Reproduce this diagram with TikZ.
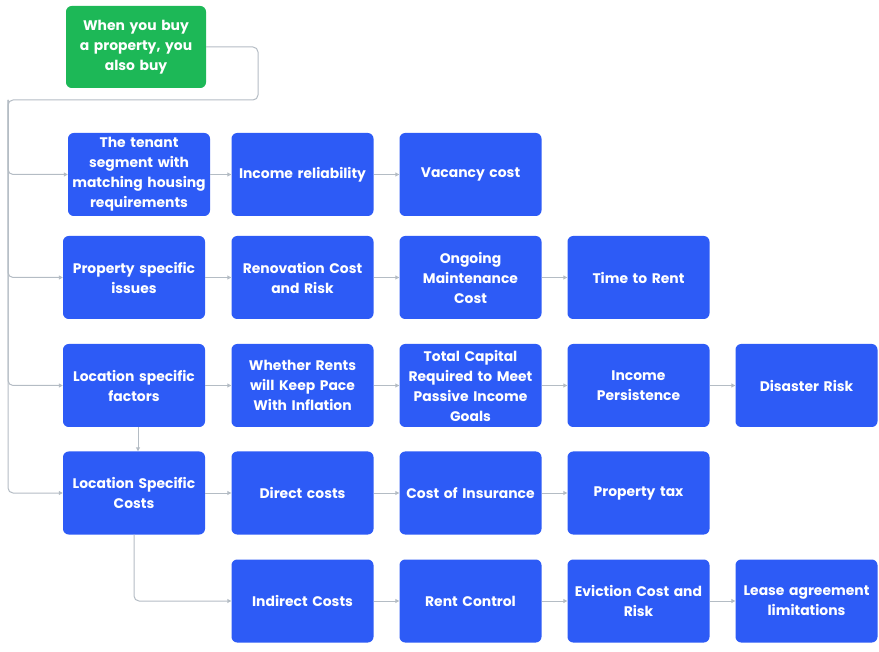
\documentclass[tikz,border=0pt]{standalone}
\usepackage{fontspec}
\usepackage{xcolor}
\usepackage{tikz}
\usetikzlibrary{arrows.meta,positioning,calc}
\setmainfont{Poppins}
\definecolor{BuyGreen}{HTML}{1DB857}
\definecolor{BuyBlue}{HTML}{2D5BF6}
\definecolor{LinkGray}{HTML}{B4BCC4}
\newcommand{\boxfont}{\bfseries\fontsize{13.9}{20}\selectfont}

\begin{document}
\begin{tikzpicture}[
    x=1pt, y=-1pt,
    start/.style={
      fill=BuyGreen,
      text=white,
      rounded corners=2mm,
      minimum width=140pt,
      minimum height=82pt,
      text width=136pt,
      align=center,
      inner sep=0pt,
      font=\boxfont
    },
    item/.style={
      fill=BuyBlue,
      text=white,
      rounded corners=2mm,
      minimum width=142pt,
      minimum height=83pt,
      text width=138pt,
      align=center,
      inner sep=0pt,
      font=\boxfont
    },
    link/.style={
      -{Triangle[length=4pt,width=4pt]},
      draw=LinkGray,
      line width=1pt,
      rounded corners=5pt
    }
  ]
    \useasboundingbox (0,0) rectangle (879,652);

    \node[start] (buy) at (136,47) {When you buy\\a property, you\\also buy};

    \node[item] (tenant) at (139,174.5) {The tenant\\segment with\\matching housing\\requirements};
    \node[item] (reliab) at (302.5,174.5) {Income reliability};
    \node[item] (vacancy) at (470.5,174.5) {Vacancy cost};

    \node[item] (propiss) at (134,277.5) {Property specific\\issues};
    \node[item] (renov) at (302.5,277.5) {Renovation Cost\\and Risk};
    \node[item] (maint) at (470.5,277.5) {Ongoing\\Maintenance\\Cost};
    \node[item] (torent) at (638.5,277.5) {Time to Rent};

    \node[item] (locfac) at (134,385.5) {Location specific\\factors};
    \node[item] (pace) at (302.5,385.5) {Whether Rents\\will Keep Pace\\With Inflation};
    \node[item] (capital) at (470.5,385.5) {Total Capital\\Required to Meet\\Passive Income\\Goals};
    \node[item] (persist) at (638.5,385.5) {Income\\Persistence};
    \node[item] (disaster) at (806.5,385.5) {Disaster Risk};

    \node[item] (loccost) at (134,493) {Location Specific\\Costs};
    \node[item] (direct) at (302.5,493) {Direct costs};
    \node[item] (insur) at (470.5,493) {Cost of Insurance};
    \node[item] (proptax) at (638.5,493) {Property tax};

    \node[item] (indirect) at (302.5,601) {Indirect Costs};
    \node[item] (rentctl) at (470.5,601) {Rent Control};
    \node[item] (evict) at (638.5,601) {Eviction Cost and\\Risk};
    \node[item] (lease) at (806.5,601) {Lease agreement\\limitations};

    % spine from the green box
    \coordinate (turn) at (258,100);
    \coordinate (spine) at (8,100);
    \draw[link] (buy.east) -| (turn) -- (spine) |- (loccost.west);
    \draw[link] (spine) |- (tenant.west);
    \draw[link] (spine) |- (propiss.west);
    \draw[link] (spine) |- (locfac.west);

    % rows
    \draw[link] (tenant.east) -- (reliab.west);
    \draw[link] (reliab.east) -- (vacancy.west);
    \draw[link] (propiss.east) -- (renov.west);
    \draw[link] (renov.east) -- (maint.west);
    \draw[link] (maint.east) -- (torent.west);
    \draw[link] (locfac.east) -- (pace.west);
    \draw[link] (pace.east) -- (capital.west);
    \draw[link] (capital.east) -- (persist.west);
    \draw[link] (persist.east) -- (disaster.west);
    \draw[link] ([xshift=4pt]locfac.south) -- ([xshift=4pt]loccost.north);
    \draw[link] (loccost.east) -- (direct.west);
    \draw[link] (direct.east) -- (insur.west);
    \draw[link] (insur.east) -- (proptax.west);
    \draw[link] (loccost.south) |- (indirect.west);
    \draw[link] (indirect.east) -- (rentctl.west);
    \draw[link] (rentctl.east) -- (evict.west);
    \draw[link] (evict.east) -- (lease.west);
  \end{tikzpicture}
\end{document}
